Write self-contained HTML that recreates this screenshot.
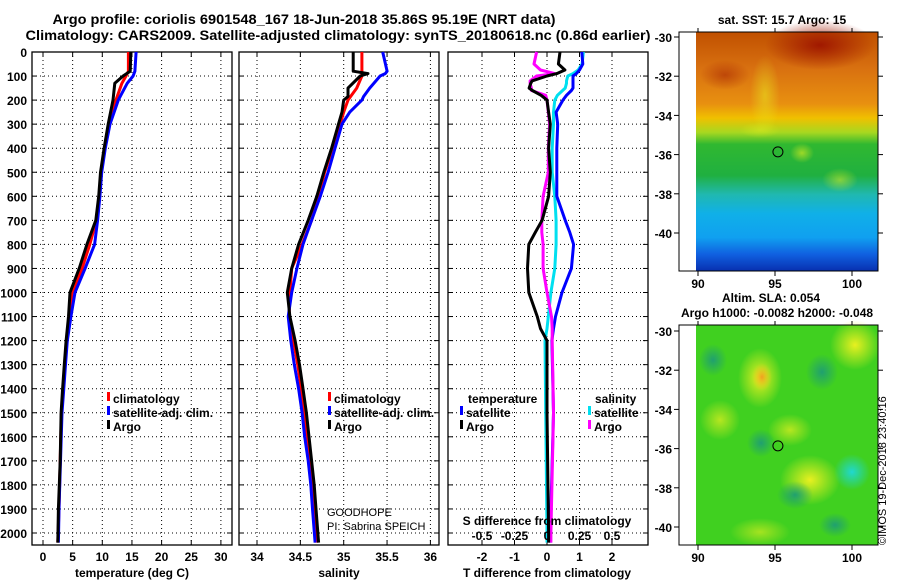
<!DOCTYPE html>
<html><head><meta charset="utf-8"><style>
html,body{margin:0;padding:0;background:#fff;}
svg{display:block;font-family:"Liberation Sans",Arial,sans-serif;}
.b{font-weight:bold;font-size:12px;}
</style></head><body>
<svg id="chart" width="900" height="580" viewBox="0 0 900 580" xmlns="http://www.w3.org/2000/svg">
<defs>
<linearGradient id="sstg" x1="0" y1="0" x2="0" y2="1">
<stop offset="0" stop-color="#c05000"/><stop offset="0.15" stop-color="#d87010"/><stop offset="0.3" stop-color="#e89010"/><stop offset="0.36" stop-color="#f0c000"/><stop offset="0.42" stop-color="#a8d820"/><stop offset="0.47" stop-color="#30b830"/><stop offset="0.6" stop-color="#20b040"/><stop offset="0.68" stop-color="#20b8b0"/><stop offset="0.76" stop-color="#10b0e8"/><stop offset="0.86" stop-color="#10a0f0"/><stop offset="0.93" stop-color="#1060e0"/><stop offset="1" stop-color="#0830b0"/>
</linearGradient>
<radialGradient id="yb"><stop offset="0" stop-color="#e8f020"/><stop offset="1" stop-color="#e8f020" stop-opacity="0"/></radialGradient>
<radialGradient id="ob"><stop offset="0" stop-color="#f0a020"/><stop offset="1" stop-color="#f0d020" stop-opacity="0"/></radialGradient>
<radialGradient id="gb"><stop offset="0" stop-color="#20a070"/><stop offset="1" stop-color="#20a070" stop-opacity="0"/></radialGradient>
<radialGradient id="cb"><stop offset="0" stop-color="#20d8d0"/><stop offset="1" stop-color="#20d8d0" stop-opacity="0"/></radialGradient>
<radialGradient id="rb"><stop offset="0" stop-color="#a01800"/><stop offset="1" stop-color="#a01800" stop-opacity="0"/></radialGradient>
<radialGradient id="lgb"><stop offset="0" stop-color="#60d020"/><stop offset="1" stop-color="#60d020" stop-opacity="0"/></radialGradient>
</defs>
<text class="b" x="304" y="24" text-anchor="middle" textLength="503" lengthAdjust="spacingAndGlyphs" style="font-size:14px">Argo profile: coriolis 6901548_167 18-Jun-2018 35.86S 95.19E (NRT data)</text>
<text class="b" x="338" y="40" text-anchor="middle" textLength="625" lengthAdjust="spacingAndGlyphs" style="font-size:14px">Climatology: CARS2009. Satellite-adjusted climatology: synTS_20180618.nc (0.86d earlier)</text>
<g id="panels"></g>
<g id="maps">
<text class="b" x="782" y="24" text-anchor="middle">sat. SST: 15.7 Argo: 15</text>
<rect x="696" y="32" width="182" height="239" fill="url(#sstg)"/>
<ellipse cx="820" cy="45" rx="55" ry="25" fill="url(#rb)"/>
<ellipse cx="725" cy="75" rx="25" ry="15" fill="url(#rb)" opacity="0.5"/>
<ellipse cx="765" cy="95" rx="15" ry="40" fill="url(#yb)" opacity="0.5"/>
<ellipse cx="840" cy="180" rx="18" ry="12" fill="url(#yb)" opacity="0.5"/>
<ellipse cx="802" cy="153" rx="12" ry="10" fill="url(#yb)" opacity="0.6"/>
<ellipse cx="760" cy="130" rx="20" ry="8" fill="url(#yb)" opacity="0.4"/>
<rect x="679" y="32" width="199" height="239" fill="none" stroke="#000"/>
<text class="b" x="771" y="302" text-anchor="middle">Altim. SLA: 0.054</text>
<text class="b" x="777" y="317" text-anchor="middle">Argo h1000: -0.0082 h2000: -0.048</text>
<rect x="696" y="325" width="182" height="220" fill="#40d020"/>
<ellipse cx="760" cy="378" rx="22" ry="30" fill="url(#yb)"/>
<ellipse cx="762" cy="377" rx="10" ry="14" fill="url(#ob)"/>
<ellipse cx="855" cy="345" rx="25" ry="25" fill="url(#yb)"/>
<ellipse cx="810" cy="480" rx="30" ry="25" fill="url(#yb)"/>
<ellipse cx="720" cy="420" rx="20" ry="20" fill="url(#yb)" opacity="0.7"/>
<ellipse cx="790" cy="430" rx="22" ry="16" fill="url(#yb)" opacity="0.7"/>
<ellipse cx="760" cy="532" rx="30" ry="14" fill="url(#yb)" opacity="0.6"/>
<ellipse cx="852" cy="472" rx="18" ry="18" fill="url(#cb)"/>
<ellipse cx="761" cy="443" rx="14" ry="14" fill="url(#gb)"/>
<ellipse cx="822" cy="372" rx="16" ry="18" fill="url(#gb)"/>
<ellipse cx="713" cy="360" rx="14" ry="16" fill="url(#gb)"/>
<ellipse cx="795" cy="495" rx="18" ry="14" fill="url(#gb)"/>
<ellipse cx="835" cy="525" rx="16" ry="12" fill="url(#gb)"/>
<rect x="679" y="325" width="199" height="220" fill="none" stroke="#000"/>
<text x="886" y="545" transform="rotate(-90 886 545)" style="font-size:11px">©IMOS 19-Dec-2018 23:40:16</text>
</g>
</svg>
<script>
// ---- data ----
const depthT = [0,80,100,130,200,300,400,500,600,700,800,900,1000,1100,1200,1300,1400,1500,1700,1900,2040];
const tempArgo = [14.8,14.7,13.5,12.1,11.8,11.0,10.3,9.7,9.4,8.9,7.4,6.1,4.55,4.3,3.9,3.6,3.3,3.05,2.9,2.6,2.5];
const tempClim = [14.4,14.4,14.0,13.3,12.3,11.2,10.4,9.8,9.5,9.0,7.9,6.6,4.9,4.4,4.0,3.7,3.4,3.1,2.9,2.7,2.5];
const tempSat = [15.7,15.5,15.2,14.2,12.7,11.3,10.5,9.9,9.6,9.2,8.7,7.1,5.4,4.7,4.1,3.8,3.5,3.2,2.95,2.7,2.6];
const depthS = [0,80,90,100,150,185,200,250,300,400,500,600,700,800,900,1000,1100,1200,1300,1400,1500,1600,1700,1800,1900,2040];
const salArgo = [35.11,35.11,35.28,35.19,35.05,35.05,35.0,34.98,34.94,34.86,34.77,34.69,34.59,34.48,34.4,34.35,34.38,34.44,34.49,34.53,34.57,34.6,34.63,34.66,34.68,34.71];
const salClim = [35.21,35.21,35.21,35.21,35.15,35.08,35.05,35.0,34.96,34.87,34.78,34.71,34.63,34.52,34.4,34.38,34.37,34.42,34.47,34.51,34.55,34.58,34.61,34.64,34.66,34.69];
const salSat = [35.45,35.5,35.48,35.42,35.3,35.23,35.21,35.07,34.98,34.9,34.82,34.73,34.63,34.53,34.46,34.4,34.36,34.39,34.43,34.48,34.52,34.55,34.59,34.62,34.64,34.67];
const depthD = [0,50,75,90,100,120,130,150,160,180,200,250,300,400,500,600,700,750,800,900,1000,1100,1150,1200,1500,2000,2040];
const dTArgo = [0.4,0.35,0.55,0.3,0,-0.46,-0.5,-0.55,-0.45,-0.18,0,0.05,0.1,0.05,0.1,0.05,-0.15,-0.36,-0.56,-0.6,-0.56,-0.3,-0.2,0,0,0.05,0.05];
const dTSat = [1.07,1.1,1.0,0.9,0.8,0.8,0.8,0.8,0.75,0.6,0.49,0.28,0.33,0.3,0.3,0.3,0.56,0.7,0.82,0.75,0.46,0.26,0.2,0.15,0.2,0.1,0.1];
const dSSat = [0.28,0.27,0.24,0.2,0.16,0.15,0.15,0.14,0.12,0.08,0.06,0.05,0.05,0.04,0.04,0.06,0.07,0.07,0.07,0.06,0.03,0.01,0,-0.015,-0.01,0,0];
const dSArgo = [-0.08,-0.1,-0.05,0.06,-0.08,-0.13,-0.13,-0.12,-0.12,-0.01,0,0.01,0.02,0.01,0.01,-0.03,-0.04,-0.04,-0.03,-0.03,0,0.035,0.04,0.04,0.05,0.03,0.03];
const depthTicks = [0,100,200,300,400,500,600,700,800,900,1000,1100,1200,1300,1400,1500,1600,1700,1800,1900,2000];
const tempTicks = [0,5,10,15,20,25,30];
const salTicks = [34,34.5,35,35.5,36];
const tDiffTicks = [-2,-1,0,1,2];
const sDiffTicks = [-0.5,-0.25,0,0.25,0.5];
const latTicks = [-30,-32,-34,-36,-38,-40];
const lonTicks = [90,95,100];
// ---- scales ----
const NS='http://www.w3.org/2000/svg';
const yD = d => 52 + d*0.2405;
const xT = t => 43 + t*5.93;
const xS = s => 257 + (s-34)*86.7;
const xDT = t => 547 + t*32.5;
const xDS = s => 547 + s*130;
const latMap1 = l => 37 + (-30-l)*19.6;
const latMap2 = l => 331 + (-30-l)*19.6;
const lonMap = l => 698 + (l-90)*15.4;
const g = document.getElementById('panels');
function el(tag, attrs, parent){const e=document.createElementNS(NS,tag);for(const k in attrs)e.setAttribute(k,attrs[k]);(parent||g).appendChild(e);return e;}
function txt(s,x,y,anchor,cls,parent){const e=el('text',{x:x,y:y,'text-anchor':anchor||'middle',class:cls||'b'},parent);e.textContent=s;return e;}
const panels=[{x0:32,x1:232,ticks:tempTicks,sx:xT,name:'temperature'},{x0:239,x1:439,ticks:salTicks,sx:xS,name:'salinity'},{x0:448,x1:648,ticks:tDiffTicks,sx:xDT,name:'difference'}];
const yBot=545;
panels.forEach((p,i)=>{
  const pg=el('g',{});
  
  
  p.ticks.forEach(t=>{const x=p.sx(t);el('line',{x1:x,x2:x,y1:52,y2:yBot,stroke:'#000','stroke-dasharray':'1,3','stroke-width':1},pg);});
  depthTicks.forEach(d=>{el('line',{x1:p.x0,x2:p.x1,y1:yD(d),y2:yD(d),stroke:'#000','stroke-dasharray':'1,3','stroke-width':1},pg);
    el('line',{x1:p.x0,x2:p.x0+5,y1:yD(d),y2:yD(d),stroke:'#000'},pg);el('line',{x1:p.x1-5,x2:p.x1,y1:yD(d),y2:yD(d),stroke:'#000'},pg);});
  p.ticks.forEach(t=>{const x=p.sx(t);el('line',{x1:x,x2:x,y1:yBot-5,y2:yBot,stroke:'#000'},pg);el('line',{x1:x,x2:x,y1:52,y2:57,stroke:'#000'},pg);
    const lt=txt(String(t),x,561,'middle','b',pg);
    
    });
  el('rect',{x:p.x0,y:52,width:p.x1-p.x0,height:yBot-52,fill:'none',stroke:'#000','stroke-width':1.3},pg);
});
depthTicks.forEach(d=>{const t=txt(String(d),27,yD(d)+5,'end');
  
  });
function line(xs,ds,sx,color,name){
  const pts=xs.map((v,i)=>sx(v).toFixed(1)+','+yD(ds[i]).toFixed(1)).join(' ');
  const pl=el('polyline',{points:pts,fill:'none',stroke:color,'stroke-width':3,'stroke-linejoin':'round'});
  
  
}
line(tempClim,depthT,xT,'#f00','temp-climatology-line');
line(tempSat,depthT,xT,'#00f','temp-satellite-line');
line(tempArgo,depthT,xT,'#000','temp-argo-line');
line(salClim,depthS,xS,'#f00','sal-climatology-line');
line(salSat,depthS,xS,'#00f','sal-satellite-line');
line(salArgo,depthS,xS,'#000','sal-argo-line');
line(dSSat,depthD,xDS,'#00e0f0','sdiff-satellite-line');
line(dTSat,depthD,xDT,'#00f','tdiff-satellite-line');
line(dSArgo,depthD,xDS,'#f0f','sdiff-argo-line');
line(dTArgo,depthD,xDT,'#000','tdiff-argo-line');
// legends
function leg(x,y,color,label,name){
  const lg=el('g',{});
  
  
  el('rect',{x:x,y:y-11,width:3,height:9,fill:color},lg);
  txt(label,x+6,y,'start','b',lg);
}
leg(107,403,'#f00','climatology','legend-temp-climatology');
leg(107,417,'#00f','satellite-adj. clim.','legend-temp-satellite');
leg(107,431,'#000','Argo','legend-temp-argo');
leg(328,403,'#f00','climatology','legend-sal-climatology');
leg(328,417,'#00f','satellite-adj. clim.','legend-sal-satellite');
leg(328,431,'#000','Argo','legend-sal-argo');
const lt1=txt('temperature',468,403,'start');


leg(460,417,'#00f','satellite','legend-tdiff-satellite');
leg(460,431,'#000','Argo','legend-tdiff-argo');
const lt2=txt('salinity',595,403,'start');


leg(588,417,'#00e0f0','satellite','legend-sdiff-satellite');
leg(588,431,'#f0f','Argo','legend-sdiff-argo');
const gh=el('text',{x:327,y:516,style:'font-size:11px'});gh.textContent='GOODHOPE';


const pi=el('text',{x:327,y:530,style:'font-size:11px'});pi.textContent='PI: Sabrina SPEICH';


const sdt=txt('S difference from climatology',547,525);


sDiffTicks.forEach(s=>{const t=txt(s===0?'0':String(s),xDS(s),540);
  
  });
[['temperature (deg C)',132,'temperature-axis-title'],['salinity',339,'salinity-axis-title'],['T difference from climatology',547,'t-diff-axis-title']].forEach(a=>{
  const t=txt(a[0],a[1],577);
  
  });
// map axes
const mg=document.getElementById('maps');
[[latMap1,271,32],[latMap2,545,325]].forEach(m=>{
  latTicks.forEach(l=>{const y=m[0](l);el('line',{x1:679,x2:674,y1:y,y2:y,stroke:'#000'},mg);el('line',{x1:878,x2:883,y1:y,y2:y,stroke:'#000'},mg);
    const t=txt(String(l),672,y+5,'end','b',mg);
    
    });
  lonTicks.forEach(l=>{const x=lonMap(l);el('line',{x1:x,x2:x,y1:m[1],y2:m[1]+5,stroke:'#000'},mg);el('line',{x1:x,x2:x,y1:m[2],y2:m[2]-4,stroke:'#000'},mg);
    const t=txt(String(l),x,m[1]+17,'middle','b',mg);
    
    });
});
const c1=el('circle',{cx:lonMap(95.19),cy:latMap1(-35.86),r:5,fill:'none',stroke:'#000'},mg);


const c2=el('circle',{cx:lonMap(95.19),cy:latMap2(-35.86),r:5,fill:'none',stroke:'#000'},mg);


</script>
</body></html>
